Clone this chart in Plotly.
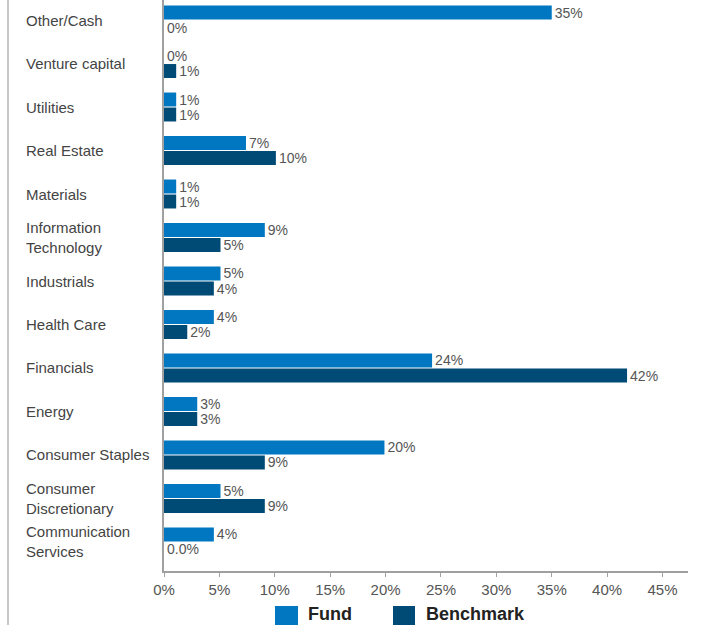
import plotly.graph_objects as go

categories = ["Other/Cash", "Venture capital", "Utilities", "Real Estate", "Materials",
              "Information<br>Technology", "Industrials", "Health Care", "Financials",
              "Energy", "Consumer Staples", "Consumer<br>Discretionary",
              "Communication<br>Services"]
fund_values = [35.0, 0.0, 1.1, 7.4, 1.1, 9.1, 5.1, 4.5, 24.2, 3.0, 19.9, 5.1, 4.5]
bench_values = [0.0, 1.1, 1.1, 10.1, 1.1, 5.1, 4.5, 2.1, 41.8, 3.0, 9.1, 9.1, 0.0]
fund_labels = ["35%", "0%", "1%", "7%", "1%", "9%", "5%", "4%", "24%", "3%", "20%", "5%", "4%"]
bench_labels = ["0%", "1%", "1%", "10%", "1%", "5%", "4%", "2%", "42%", "3%", "9%", "9%", "0.0%"]
x_ticks = [0, 5, 10, 15, 20, 25, 30, 35, 40, 45]
x_tick_labels = [f"{t}%" for t in x_ticks]
series_names = ["Fund", "Benchmark"]
series_colors = ["#0077c0", "#004b76"]

FONT = "Liberation Sans, Arial, sans-serif"
ycat = list(range(len(categories)))

fig = go.Figure()
for name, vals, labels, color in [
    (series_names[0], fund_values, fund_labels, series_colors[0]),
    (series_names[1], bench_values, bench_labels, series_colors[1]),
]:
    fig.add_trace(go.Bar(
        y=ycat, x=vals, orientation="h", name=name,
        marker=dict(color=color, line=dict(width=0)),
        text=labels, textposition="outside", constraintext="none",
        textfont=dict(family=FONT, size=14, color="#555555"),
        cliponaxis=False, showlegend=False,
    ))

fig.update_layout(
    width=704, height=625,
    margin=dict(l=164, r=16, t=0, b=54),
    paper_bgcolor="white", plot_bgcolor="white",
    barmode="group", bargap=0.31, bargroupgap=0.07,
    font=dict(family=FONT, size=15, color="#555555"),
    xaxis=dict(
        range=[0, 47.3], tickvals=x_ticks, ticktext=x_tick_labels,
        showgrid=False, zeroline=False, showline=True, linecolor="#a0a0a0",
        linewidth=2, ticks="outside", ticklen=4, tickcolor="#a0a0a0",
        tickfont=dict(family=FONT, size=15, color="#555555"),
    ),
    yaxis=dict(
        range=[12.667, -0.46], showticklabels=False, showgrid=False,
        zeroline=False, showline=True, linecolor="#a0a0a0", linewidth=2,
        ticks="",
    ),
)

# left-aligned category labels
for i, c in enumerate(categories):
    fig.add_annotation(x=-0.2672, xref="paper", y=i, yref="y", text=c,
                       showarrow=False, xanchor="left", yanchor="middle",
                       align="left", font=dict(family=FONT, size=15, color="#444444"))

# left border line
fig.add_shape(type="line", xref="paper", yref="paper", x0=-0.2977, x1=-0.2977,
              y0=-0.12, y1=1.0, line=dict(color="#c8c8c8", width=2))

# custom legend
legend_items = [(0.2118, 0.2557, 0.2710), (0.437, 0.479, 0.4960)]
for (x0, x1, tx), name, color in zip(legend_items, series_names, series_colors):
    fig.add_shape(type="rect", xref="paper", yref="paper", x0=x0, x1=x1,
                  y0=-0.0613, y1=-0.12, fillcolor=color, line=dict(width=0))
    fig.add_annotation(x=tx, xref="paper", y=-0.0753, yref="paper", text=f"<b>{name}</b>",
                       showarrow=False, xanchor="left", yanchor="middle",
                       font=dict(family=FONT, size=18, color="#222222"))

fig.write_html("out.html")
